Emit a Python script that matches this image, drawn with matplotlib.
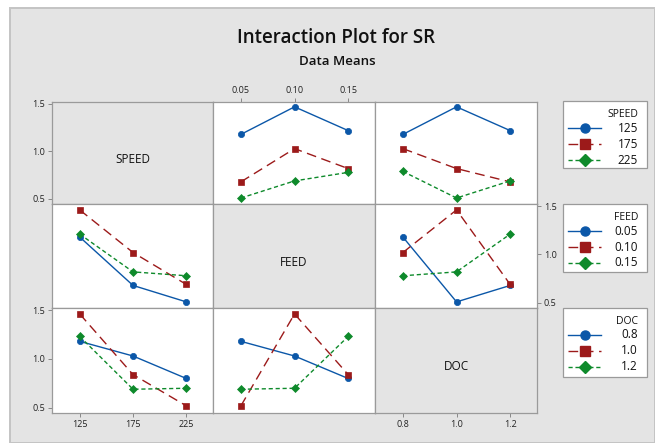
import matplotlib.pyplot as plt
from matplotlib.patches import Rectangle
from matplotlib.lines import Line2D

plt.rcParams['font.family'] = ['Open Sans', 'DejaVu Sans']

factors = ["SPEED", "FEED", "DOC"]
levels = {
    "SPEED": ["125", "175", "225"],
    "FEED": ["0.05", "0.10", "0.15"],
    "DOC": ["0.8", "1.0", "1.2"],
}

# means[(trace factor, x factor)] -> one list per level of the trace factor
means = {
    ("SPEED", "FEED"): [[1.18, 1.47, 1.22], [0.68, 1.03, 0.82], [0.51, 0.69, 0.78]],
    ("SPEED", "DOC"): [[1.18, 1.47, 1.22], [1.03, 0.82, 0.68], [0.79, 0.51, 0.69]],
    ("FEED", "SPEED"): [[1.18, 0.68, 0.51], [1.46, 1.02, 0.69], [1.21, 0.82, 0.78]],
    ("FEED", "DOC"): [[1.18, 0.51, 0.68], [1.02, 1.46, 0.69], [0.78, 0.82, 1.21]],
    ("DOC", "SPEED"): [[1.18, 1.03, 0.80], [1.46, 0.84, 0.52], [1.23, 0.69, 0.70]],
    ("DOC", "FEED"): [[1.18, 1.03, 0.80], [0.52, 1.46, 0.84], [0.69, 0.70, 1.23]],
}

colors = ["#0b57a8", "#9c1a1a", "#0e8a2b"]
markers = ["o", "s", "D"]
dashes = [None, (7, 4), (3, 2)]

W, H = 655, 443
fig = plt.figure(figsize=(W / 100, H / 100), dpi=100)
fig.patch.set_facecolor("white")

bg = "#e4e4e4"
grid_col = "#9a9a9a"

# overlay in pixel coordinates for the panel, titles, legends
ov = fig.add_axes([0, 0, 1, 1])
ov.set_xlim(0, W)
ov.set_ylim(H, 0)
ov.axis("off")
ov.add_patch(Rectangle((10, 8), W - 10, H - 8, facecolor=bg, edgecolor="#c4c4c4", lw=1.4))
ov.text(336, 38, "Interaction Plot for SR", ha="center", va="center", fontsize=13.5,
        fontweight="semibold", color="#111111")
ov.text(337, 61, "Data Means", ha="center", va="center", fontsize=9.5,
        fontweight="semibold", color="#111111")

col_x = [52, 213, 375, 537]
row_y = [102, 204, 308, 413]


def px_axes(x0, y0, x1, y1):
    return fig.add_axes([x0 / W, 1 - y1 / H, (x1 - x0) / W, (y1 - y0) / H])


for r, tf in enumerate(factors):
    for c, xf in enumerate(factors):
        ax = px_axes(col_x[c], row_y[r], col_x[c + 1], row_y[r + 1])
        ax.set_xlim(-0.52, 2.5)
        ax.set_ylim(0.447, 1.521)
        for s in ax.spines.values():
            s.set_color(grid_col)
            s.set_linewidth(0.9)
        ax.tick_params(length=3, width=0.7, color="#888888", labelsize=6.5, pad=2, labelcolor="#222222")
        ax.set_xticks([0, 1, 2])
        ax.set_yticks([0.5, 1.0, 1.5])
        ax.set_xticklabels(levels[xf])
        ax.set_yticklabels(["0.5", "1.0", "1.5"])
        ax.tick_params(bottom=False, labelbottom=False, left=False, labelleft=False)
        if r == c:
            ax.set_facecolor(bg)
            ax.text(0.5, 0.44, tf, transform=ax.transAxes, ha="center", va="center", fontsize=8.5, color="#111111")
        else:
            ax.set_facecolor("white")
            for i, ys in enumerate(means[(tf, xf)]):
                ln, = ax.plot([0, 1, 2], ys, color=colors[i], marker=markers[i], ms=4.5, lw=1.0,
                              markeredgewidth=0.5, markeredgecolor=colors[i])
                if dashes[i]:
                    ln.set_dashes(dashes[i])
        # axis placement like the reference
        if c == 0 and r in (0, 2):
            ax.tick_params(left=True, labelleft=True)
        if c == 2 and r == 1:
            ax.tick_params(right=True, labelright=True)
        if r == 2 and c in (0, 2):
            ax.tick_params(bottom=True, labelbottom=True)
        if r == 0 and c == 1:
            ax.tick_params(top=True, labeltop=True)

# legends
leg_boxes = [(563, 101, 647, 168), (563, 204, 647, 272), (563, 308, 647, 377)]
for (x0, y0, x1, y1), f in zip(leg_boxes, factors):
    ov.add_patch(Rectangle((x0, y0), x1 - x0, y1 - y0, facecolor="white", edgecolor="#9a9a9a", lw=0.9))
    ov.text(x1 - 9, y0 + 13, f, ha="right", va="center", fontsize=7.5, color="#111111")
    for i, lab in enumerate(levels[f]):
        yy = y0 + 27 + 16 * i
        ln = Line2D([x0 + 5, x0 + 38], [yy, yy], color=colors[i], lw=1.0)
        if dashes[i]:
            ln.set_dashes(dashes[i])
        ov.add_line(ln)
        ov.plot([x0 + 22], [yy], marker=markers[i], color=colors[i], ms=6.5)
        ov.text(x1 - 9, yy, lab, ha="right", va="center", fontsize=8.5, color="#111111")

fig.savefig("out.png", dpi=100)
